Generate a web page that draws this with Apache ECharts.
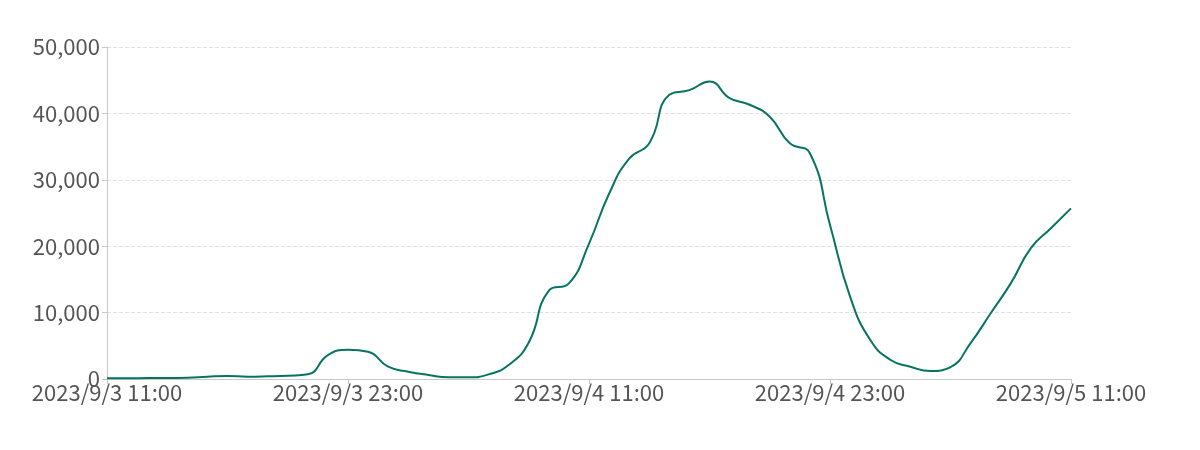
<!DOCTYPE html>
<html>
<head>
<meta charset="utf-8">
<script src="https://cdn.jsdelivr.net/npm/echarts@6/dist/echarts.min.js"></script>
<style>
  html, body { margin: 0; padding: 0; background: #fff; }
  #main { width: 1200px; height: 450px; }
</style>
</head>
<body>
<div id="main"></div>
<script>
// hourly readings, 2023/9/3 11:00 .. 2023/9/5 11:00
var startDay = 3;
var startHour = 11;
var values = [
  100, 100, 150, 150, 200, 350, 450, 350, 400, 500,
  700, 3600, 4400, 4100, 1850, 1100, 600, 250, 250, 700,
  2100, 5500, 13300, 14400, 20400, 27900, 33200, 35500, 42800, 43500,
  44800, 42300, 41300, 39500, 35500, 34000, 23200, 12400, 5900, 2900,
  1850, 1200, 1800, 5400, 9900, 14400, 19700, 22700, 25700
];
var yTicks = [0, 10000, 20000, 30000, 40000, 50000];

var categories = [];
for (var i = 0; i < values.length; i++) {
  var h = startHour + i;
  var d = startDay + Math.floor(h / 24);
  categories.push('2023/9/' + d + ' ' + (h % 24) + ':00');
}

var chart = echarts.init(document.getElementById('main'));
var font = '"Noto Sans CJK SC", "Noto Sans", sans-serif';
chart.setOption({
  animation: false,
  backgroundColor: '#fff',
  grid: { left: 107, right: 129, top: 47, bottom: 71 },
  xAxis: {
    type: 'category',
    boundaryGap: false,
    data: categories,
    axisLine: { lineStyle: { color: '#c8c8c8', width: 1 } },
    axisTick: { show: true, interval: 11, length: 5, lineStyle: { color: '#c8c8c8' } },
    axisLabel: {
      interval: 11,
      color: '#555',
      fontSize: 22,
      fontFamily: font,
      margin: 3
    }
  },
  yAxis: {
    type: 'value',
    min: yTicks[0],
    max: yTicks[yTicks.length - 1],
    interval: 10000,
    axisLine: { show: true, lineStyle: { color: '#c8c8c8', width: 1 } },
    axisTick: { show: true, length: 5, lineStyle: { color: '#c8c8c8' } },
    splitLine: { lineStyle: { color: '#e0e0e0', type: 'dashed' } },
    axisLabel: {
      color: '#555',
      fontSize: 22,
      fontFamily: font,
      margin: 7,
      formatter: function (v) { return v.toLocaleString('en-US'); }
    }
  },
  series: [{
    type: 'line',
    data: values,
    smooth: true,
    showSymbol: false,
    lineStyle: { color: '#077463', width: 2 }
  }]
});
</script>
</body>
</html>
